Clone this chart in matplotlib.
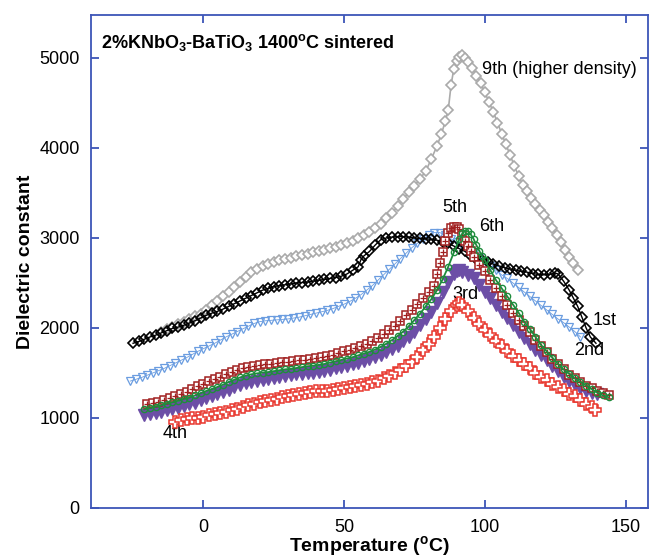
import matplotlib
matplotlib.use("Agg")
import matplotlib.pyplot as plt

plt.rcParams['font.family'] = ['Liberation Sans', 'DejaVu Sans']
plt.rcParams['mathtext.fontset'] = 'custom'
plt.rcParams['mathtext.rm'] = 'Liberation Sans'
plt.rcParams['mathtext.bf'] = 'Liberation Sans:bold'

# 1st run (black)
t_1st = [-25, -23, -21, -19, -17, -15, -13, -11, -9, -7, -5, -3, -1, 1, 3, 5, 7, 9, 11, 13,
         15, 17, 19, 21, 23, 25, 27, 29, 31, 33, 35, 37, 39, 41, 43, 45, 47, 49, 51, 53,
         55, 56, 57, 59, 61, 63, 65, 67, 69, 71, 73, 75, 77, 79, 81, 83, 85, 87, 89, 91,
         93, 95, 97, 99, 101, 103, 105, 107, 109, 111, 113, 115, 117, 119, 121, 123, 125, 126, 128, 130,
         131.5, 133, 134.5, 136, 137.5, 139.5]
e_1st = [1830, 1850, 1875, 1900, 1920, 1945, 1970, 1995, 2010, 2030, 2055, 2080, 2110, 2140, 2165, 2185, 2210, 2240, 2270, 2300,
         2330, 2360, 2390, 2420, 2440, 2460, 2470, 2480, 2490, 2500, 2505, 2510, 2520, 2530, 2540, 2550, 2560, 2575, 2600, 2640,
         2680, 2760, 2800, 2850, 2920, 2980, 3000, 3010, 3015, 3015, 3010, 3000, 2995, 2990, 2985, 2975, 2960, 2940, 2910, 2880,
         2850, 2800, 2770, 2750, 2730, 2710, 2690, 2670, 2655, 2640, 2630, 2620, 2605, 2595, 2590, 2595, 2610, 2600, 2520, 2420,
         2330, 2240, 2120, 2000, 1900, 1830]

# 2nd run (blue)
t_2nd = [-26, -24, -22, -20, -18, -16, -14, -12, -10, -8, -6, -4, -2, 0, 2, 4, 6, 8, 10, 12,
         14, 16, 18, 20, 22, 24, 26, 28, 30, 32, 34, 36, 38, 40, 42, 44, 46, 48, 50, 52,
         54, 56, 58, 60, 62, 64, 66, 68, 70, 72, 74, 76, 78, 80, 82, 84, 86, 88, 90, 92,
         94, 96, 98, 100, 102, 104, 106, 108, 110, 112, 114, 116, 118, 120, 122, 124, 126, 128, 130, 132, 134]
e_2nd = [1410, 1430, 1450, 1475, 1500, 1525, 1550, 1580, 1610, 1640, 1670, 1705, 1740, 1770, 1800, 1830, 1865, 1900, 1930, 1960,
         1990, 2020, 2050, 2070, 2080, 2085, 2090, 2095, 2100, 2110, 2120, 2135, 2150, 2165, 2180, 2195, 2215, 2240, 2265, 2295,
         2330, 2370, 2420, 2470, 2530, 2590, 2650, 2710, 2770, 2830, 2890, 2940, 2990, 3030, 3060, 3060, 3030, 2990, 2950, 2910,
         2870, 2830, 2790, 2740, 2690, 2640, 2590, 2550, 2500, 2450, 2400, 2350, 2300, 2250, 2200, 2150, 2100, 2060, 2010, 1960, 1900]

# 3rd run (purple)
t_3rd = [-21, -19, -17, -15, -13, -11, -9, -7, -5, -3, -1, 1, 3, 5, 7, 9, 11, 13, 15, 17,
         19, 21, 23, 25, 27, 29, 31, 33, 35, 37, 39, 41, 43, 45, 47, 49, 51, 53, 55, 57,
         59, 61, 63, 65, 67, 69, 71, 73, 75, 77, 79, 81, 83, 85, 87, 89, 90, 91, 92, 94,
         96, 98, 100, 102, 104, 106, 108, 110, 112, 114, 116, 118, 120, 122, 124, 126, 128, 130, 132, 134,
         136, 138, 140]
e_3rd = [1030, 1040, 1055, 1070, 1085, 1100, 1115, 1130, 1150, 1170, 1195, 1220, 1245, 1265, 1290, 1315, 1340, 1365, 1385, 1400,
         1415, 1425, 1435, 1445, 1455, 1465, 1475, 1485, 1490, 1495, 1500, 1510, 1520, 1535, 1550, 1565, 1580, 1595, 1610, 1630,
         1650, 1675, 1700, 1730, 1765, 1805, 1850, 1900, 1960, 2030, 2100, 2180, 2280, 2400, 2510, 2600, 2630, 2640, 2625, 2590,
         2550, 2480, 2400, 2330, 2260, 2180, 2110, 2030, 1960, 1890, 1820, 1760, 1700, 1640, 1580, 1520, 1460, 1410, 1370, 1330,
         1300, 1280, 1265]

# 4th run (red)
t_4th = [-10, -8, -6, -4, -2, 0, 2, 4, 6, 8, 10, 12, 14, 16, 18, 20, 22, 24, 26, 28,
         30, 32, 34, 36, 38, 40, 42, 44, 46, 48, 50, 52, 54, 56, 58, 60, 62, 64, 66, 68,
         70, 72, 74, 76, 78, 80, 82, 84, 86, 88, 90, 91, 92, 94, 96, 98, 100, 102, 104, 106,
         108, 110, 112, 114, 116, 118, 120, 122, 124, 126, 128, 130, 132, 134, 136, 138, 139]
e_4th = [960, 975, 985, 995, 1005, 1015, 1030, 1040, 1055, 1070, 1085, 1100, 1120, 1140, 1160, 1175, 1190, 1200, 1215, 1230,
         1240, 1255, 1265, 1275, 1285, 1295, 1300, 1305, 1310, 1320, 1330, 1340, 1350, 1365, 1380, 1395, 1415, 1440, 1470, 1500,
         1535, 1575, 1625, 1680, 1750, 1820, 1900, 2000, 2100, 2190, 2260, 2275, 2255, 2190, 2110, 2040, 1980, 1920, 1860, 1800,
         1745, 1690, 1640, 1595, 1550, 1500, 1460, 1420, 1380, 1340, 1310, 1270, 1240, 1200, 1160, 1120, 1090]

# 5th run (dark red)
t_5th = [-20, -18, -16, -14, -12, -10, -8, -6, -4, -2, 0, 2, 4, 6, 8, 10, 12, 14, 16, 18,
         20, 22, 24, 26, 28, 30, 32, 34, 36, 38, 40, 42, 44, 46, 48, 50, 52, 54, 56, 58,
         60, 62, 64, 66, 68, 70, 72, 74, 76, 78, 80, 82, 83, 84, 85, 86, 87, 88, 89, 90,
         91, 92, 93, 94, 95, 96, 98, 100, 102, 104, 106, 108, 110, 112, 114, 116, 118, 120, 122, 124,
         126, 128, 130, 132, 134, 136, 138, 140, 142, 144]
e_5th = [1150, 1165, 1180, 1200, 1220, 1240, 1265, 1290, 1320, 1350, 1380, 1410, 1435, 1460, 1490, 1515, 1535, 1550, 1565, 1575,
         1585, 1595, 1605, 1610, 1620, 1625, 1630, 1640, 1645, 1655, 1665, 1675, 1690, 1705, 1720, 1740, 1760, 1780, 1800, 1825,
         1855, 1890, 1930, 1975, 2025, 2080, 2140, 2200, 2265, 2330, 2400, 2470, 2600, 2720, 2840, 2970, 3050, 3110, 3125, 3120,
         3105, 3030, 2970, 2910, 2850, 2790, 2700, 2630, 2530, 2440, 2350, 2260, 2170, 2090, 2020, 1950, 1870, 1800, 1730, 1660,
         1600, 1540, 1480, 1440, 1400, 1360, 1330, 1300, 1275, 1250]

# 6th run (green)
t_6th = [-21, -19, -17, -15, -13, -11, -9, -7, -5, -3, -1, 1, 3, 5, 7, 9, 11, 13, 15, 17,
         19, 21, 23, 25, 27, 29, 31, 33, 35, 37, 39, 41, 43, 45, 47, 49, 51, 53, 55, 57,
         59, 61, 63, 65, 67, 69, 71, 73, 75, 77, 79, 81, 83, 85, 87, 89, 91, 92, 93, 94,
         95, 96, 97, 98, 99, 100, 102, 104, 106, 108, 110, 112, 114, 116, 118, 120, 122, 124, 126, 128,
         130, 132, 134, 136, 138, 140, 142, 144]
e_6th = [1095, 1110, 1125, 1140, 1160, 1175, 1190, 1210, 1225, 1250, 1275, 1300, 1320, 1345, 1370, 1400, 1425, 1450, 1470, 1485,
         1495, 1505, 1510, 1520, 1530, 1540, 1545, 1555, 1565, 1575, 1580, 1590, 1600, 1615, 1630, 1645, 1660, 1675, 1695, 1715,
         1735, 1760, 1790, 1825, 1865, 1910, 1960, 2020, 2090, 2160, 2240, 2320, 2420, 2540, 2680, 2840, 2990, 3050, 3080, 3075,
         3040, 2990, 2920, 2860, 2800, 2750, 2640, 2530, 2440, 2350, 2260, 2170, 2070, 1990, 1900, 1810, 1740, 1670, 1600, 1540,
         1490, 1440, 1400, 1360, 1320, 1280, 1250, 1230]

# 9th run (gray, higher density)
t_9th = [-15, -13, -11, -9, -7, -5, -3, -1, 1, 3, 5, 7, 9, 11, 13, 15, 17, 19, 21, 23,
         25, 27, 29, 31, 33, 35, 37, 39, 41, 43, 45, 47, 49, 51, 53, 55, 57, 59, 61, 63,
         65, 67, 69, 71, 73, 75, 77, 79, 81, 83, 84.5, 86, 87, 88, 89, 90, 91, 92, 93, 94,
         95.5, 97, 98.5, 100, 101.5, 103, 104.5, 106, 107.5, 109, 110.5, 112, 113.5, 115, 116.5, 118, 119.5, 121, 122.5, 124,
         125.5, 127, 128.5, 130, 131.5, 133]
e_9th = [1960, 1985, 2010, 2040, 2070, 2100, 2130, 2160, 2200, 2250, 2300, 2350, 2400, 2450, 2510, 2570, 2620, 2660, 2690, 2710,
         2730, 2750, 2765, 2780, 2795, 2810, 2825, 2840, 2855, 2870, 2885, 2900, 2920, 2945, 2970, 3000, 3030, 3065, 3110, 3160,
         3220, 3280, 3350, 3430, 3510, 3580, 3660, 3740, 3880, 4020, 4150, 4300, 4420, 4700, 4880, 4970, 5010, 5030, 5000, 4960,
         4890, 4800, 4720, 4620, 4510, 4400, 4280, 4160, 4040, 3920, 3800, 3690, 3590, 3520, 3440, 3380, 3310, 3250, 3180, 3110,
         3030, 2950, 2870, 2790, 2720, 2640]

axis_blue = '#3d55b8'

fig = plt.figure(figsize=(6.49, 5.60), dpi=100)
ax = fig.add_axes([0.140, 0.0929, 0.8585, 0.8804])

# series, drawn back to front
ax.plot(t_9th, e_9th, color='#aaaaaa', lw=1.2, marker='D', ms=5, mfc='white', mec='#aaaaaa', mew=1.2, zorder=2)
ax.plot(t_2nd, e_2nd, color='#6b9de0', lw=0.6, marker='v', ms=6, mfc='none', mec='#6b9de0', mew=0.9, zorder=3)
ax.plot(t_1st, e_1st, color='black', lw=1.0, marker='D', ms=5.5, mfc='none', mec='black', mew=1.2, zorder=4)
ax.plot(t_3rd, e_3rd, color='#6c4ea6', lw=1.0, marker='v', ms=8, mfc='#6c4ea6', mec='#6c4ea6', zorder=5)
ax.plot(t_4th, e_4th, color='#e8352c', lw=0.8, marker='P', ms=8, mfc='white', mec='#e8352c', mew=1.1, zorder=5)
ax.plot(t_5th, e_5th, color='#a11f1f', lw=1.0, marker='s', ms=6, mfc='white', mec='#a11f1f', mew=1.1, zorder=6)
ax.plot(t_5th, e_5th, ls='none', marker='+', ms=5, mec='#a11f1f', mew=0.9, zorder=6)
ax.plot(t_6th, e_6th, color='#1e8c3c', lw=1.3, marker='o', ms=4.5, mfc='none', mec='#1e8c3c', mew=1.0, zorder=7)

# run labels
ax.text(99, 4870, '9th (higher density)', fontsize=13, va='center', ha='left')
ax.text(89.5, 3340, '5th', fontsize=13, va='center', ha='center')
ax.text(102.5, 3130, '6th', fontsize=13, va='center', ha='center')
ax.text(93, 2370, '3rd', fontsize=13, va='center', ha='center')
ax.text(142.5, 2080, '1st', fontsize=13, va='center', ha='center')
ax.text(137, 1750, '2nd', fontsize=13, va='center', ha='center')
ax.text(-10, 830, '4th', fontsize=13, va='center', ha='center')

ax.text(0.018, 0.945, r'2%KNbO$_\mathbf{3}$-BaTiO$_\mathbf{3}$ 1400$^\mathbf{o}$C sintered',
        transform=ax.transAxes, fontsize=13, fontweight='bold', va='center', ha='left')

ax.set_xlim(-40, 158)
ax.set_ylim(0, 5478)
ax.set_xticks([0, 50, 100, 150])
ax.set_yticks([0, 1000, 2000, 3000, 4000, 5000])

for s in ax.spines.values():
    s.set_color(axis_blue)
    s.set_linewidth(1.3)
ax.tick_params(direction='in', length=6, width=1.3, color=axis_blue, labelsize=13,
               top=True, right=True, pad=8)

ax.set_xlabel(r'Temperature ($^\mathbf{o}$C)', fontsize=14, fontweight='bold', labelpad=-1)
ax.set_ylabel('Dielectric constant', fontsize=14, fontweight='bold', labelpad=4)

fig.savefig('out.png', dpi=100)
